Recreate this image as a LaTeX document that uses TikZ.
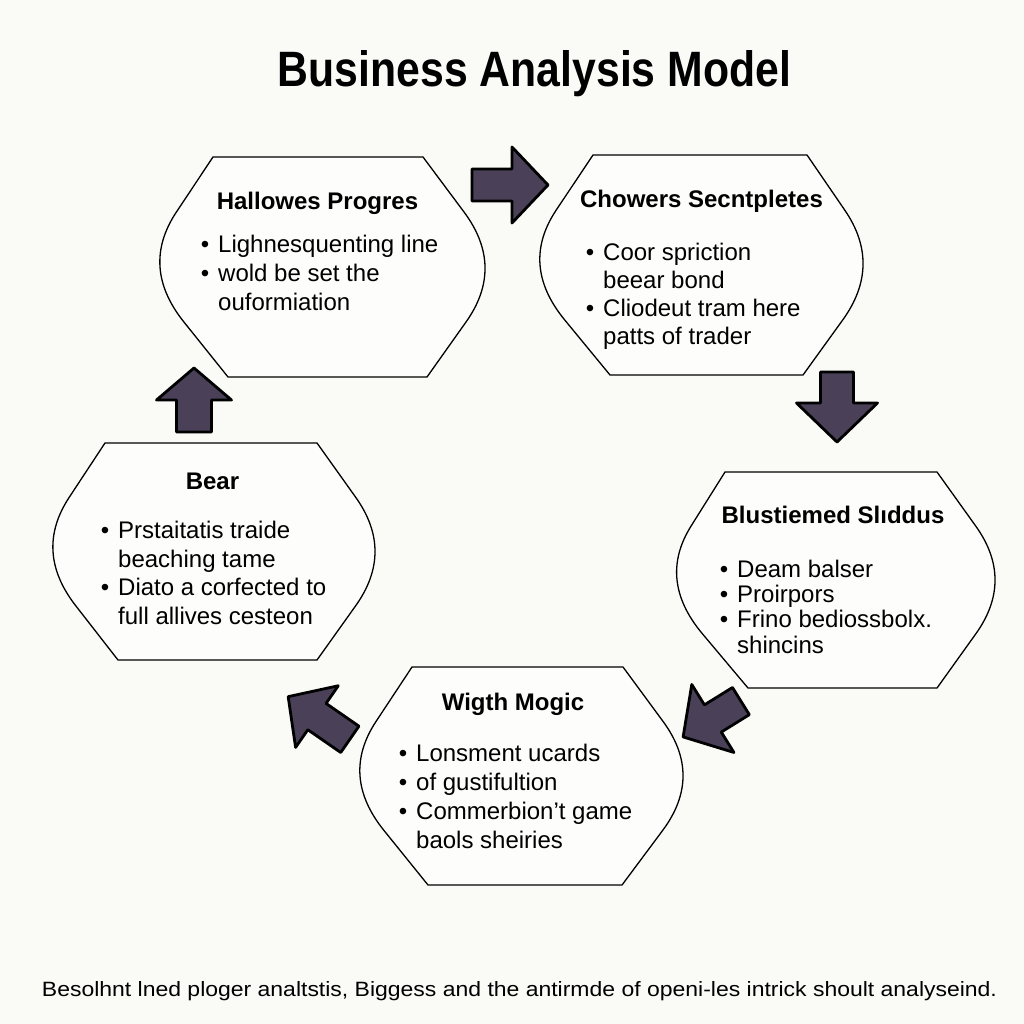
\documentclass[tikz,border=0pt]{standalone}
\usepackage{fontspec}
\setmainfont{Liberation Sans}
\usepackage{graphicx}
\usetikzlibrary{calc}
\definecolor{arrowfill}{HTML}{4A4158}
\definecolor{bgcol}{HTML}{FAFAF7}
\tikzset{
  hexline/.style={draw=black, line width=1.3pt, fill=white!60!bgcol, line join=round},
  arrowstyle/.style={draw=black, line width=2.8pt, fill=arrowfill, line join=round},
  headtxt/.style={font=\fontsize{24}{28}\selectfont\bfseries, inner sep=0pt, anchor=base},
  bodytxt/.style={font=\fontsize{24}{#1}\selectfont, align=left, inner sep=0pt, anchor=base west},
  bodytxt/.default=29,
}
% #1 name, #2 TLx, #3 TRx, #4 Ty, #5 BLx, #6 BRx, #7 By, #8 Lx, #9 Rx
% sides: straight lines with a quadratic rounding (half of each side) at the outer vertex
\newcommand\hexbox[9]{%
  \pgfmathsetmacro\hym{(#4+#7)/2}%
  \pgfmathsetmacro\hvl{(#8-0.125*(#2+#5))/0.75}%
  \pgfmathsetmacro\hvr{(#9-0.125*(#3+#6))/0.75}%
  \coordinate (#1-vr) at (\hvr,\hym);
  \coordinate (#1-vl) at (\hvl,\hym);
  \draw[hexline] (#2,#4) coordinate (#1-tl) -- (#3,#4) coordinate (#1-tr)
    -- ($(#1-vr)!0.5!(#1-tr)$)
    .. controls ($(#1-vr)!0.1667!(#1-tr)$) and ($(#1-vr)!0.1667!(#6,#7)$) .. ($(#1-vr)!0.5!(#6,#7)$)
    -- (#6,#7) coordinate (#1-br)
    -- (#5,#7) coordinate (#1-bl)
    -- ($(#1-vl)!0.5!(#1-bl)$)
    .. controls ($(#1-vl)!0.1667!(#1-bl)$) and ($(#1-vl)!0.1667!(#1-tl)$) .. ($(#1-vl)!0.5!(#1-tl)$)
    -- cycle;
}
% #1 name, #2 cx, #3 cy, #4 angle, #5 length, #6 shaft width, #7 head width, #8 head length
\newcommand\blockarrow[8]{%
  \begin{scope}[shift={(#2,#3)}, rotate=#4]
    \draw[arrowstyle] (-#5/2,-#6/2) -- (#5/2-#8,-#6/2) -- (#5/2-#8,-#7/2)
      -- (#5/2,0) coordinate (#1) -- (#5/2-#8,#7/2) -- (#5/2-#8,#6/2)
      -- (-#5/2,#6/2) -- cycle;
  \end{scope}
}
\begin{document}
\begin{tikzpicture}[x=1pt,y=-1pt]
\fill[bgcol] (0,0) rectangle (1024,1024);
\useasboundingbox (0,0) rectangle (1024,1024);

\node[inner sep=0pt, anchor=base] (title) at (534.5,87)
  {\resizebox{513pt}{36pt}{\bfseries Business Analysis Model}};

% shapes
\hexbox{s1}{213}{423}{157}{228}{427}{377}{160}{485}
\hexbox{s2}{593}{807}{155}{610}{803}{375}{540}{863}
\hexbox{s3}{105}{317}{443}{118}{317}{660}{53}{375}
\hexbox{s4}{725}{937}{472}{748}{937}{688}{677}{995}
\hexbox{s5}{412}{623}{667}{428}{622}{885}{360}{683}

% arrows
\blockarrow{a1}{510}{185}{0}{76}{32}{76}{36}
\blockarrow{a2}{837}{407}{-90}{70}{33}{81}{39}
\blockarrow{a3}{712}{719}{211.8}{68}{32}{80}{35}
\blockarrow{a4}{319}{718}{145.3}{75}{32}{75}{35}
\blockarrow{a5}{194}{400}{90}{64}{35}{75}{32}

% texts (base anchor = baseline of the last line)
\newcommand\bul{\llap{\textbullet\hspace{9pt}}}
\node[headtxt] (h1) at (317.5,210) {Hallowes Progres};
\node[bodytxt=29] (b1) at (218,310) {\bul Lighnesquenting line\\\bul wold be set the\\ouformiation};

\node[headtxt] (h2) at (701.5,208) {Chowers Secntpletes};
\node[bodytxt=28] (b2) at (603,344) {\bul Coor spriction\\beear bond\\\bul Cliodeut tram here\\patts of trader};

\node[headtxt] (h3) at (212.5,489) {Bear};
\node[bodytxt=28.5] (b3) at (118,624) {\bul Prstaitatis traide\\beaching tame\\\bul Diato a corfected to\\full allives cesteon};

\node[headtxt] (h4) at (833,523) {Blustiemed Slıddus};
\node[bodytxt=25.3] (b4) at (737,653) {\bul Deam balser\\\bul Proirpors\\\bul Frino bediossbolx.\\shincins};

\node[headtxt] (h5) at (513,710) {Wigth Mogic};
\node[bodytxt=28.7] (b5) at (416,848) {\bul Lonsment ucards\\\bul of gustifultion\\\bul Commerbion't game\\baols sheiries};

\node[inner sep=0pt, anchor=base] (foot) at (519.5,996)
  {\resizebox{955pt}{15pt}{Besolhnt lned ploger analtstis, Biggess and the antirmde of openi-les intrick shoult analyseind.}};
\end{tikzpicture}
\end{document}
